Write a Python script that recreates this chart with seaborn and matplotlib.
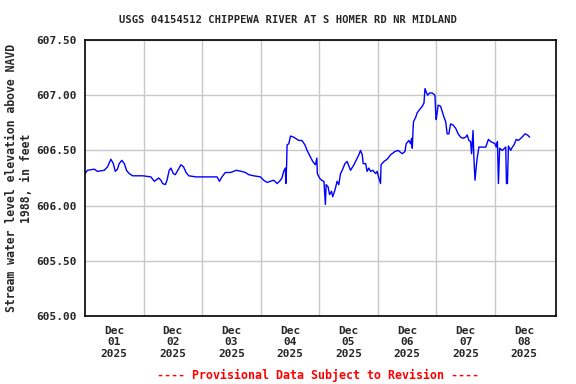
import pandas as pd
import seaborn as sns
import matplotlib.pyplot as plt

# Gage readings, hours after 2025-12-01 00:00 and elevation in feet
hours = [0.0, 1.0, 3.8, 5.1, 7.9, 9.2, 10.6, 11.6, 12.4, 13.3, 14.0, 15.1, 16.1, 17.0, 18.1,
         19.5, 23.6, 27.0, 28.4, 30.2, 31.1, 31.8, 32.9, 33.6, 34.5, 35.2, 36.2, 37.0, 38.0,
         39.3, 40.4, 41.4, 42.5, 45.5, 47.9, 54.1, 55.1, 56.1, 57.5, 59.6, 60.9, 61.9, 64.1,
         65.7, 67.1, 69.1, 71.9, 73.2, 74.6, 76.0, 77.3, 78.7, 79.7, 80.7, 81.4, 82.1, 82.3,
         82.6, 82.8, 83.5, 84.2, 85.5, 87.6, 88.9, 90.1, 91.0, 92.4, 93.3, 94.4, 95.0, 95.2,
         96.1, 96.9, 97.9, 98.5, 98.8, 99.6, 100.2, 101.0, 101.5, 102.4, 103.3, 104.0, 104.7,
         105.4, 106.5, 107.4, 108.8, 110.2, 111.5, 112.2, 112.9, 113.6, 114.0, 115.0, 115.6,
         116.3, 117.0, 117.9, 119.1, 119.7, 120.4, 121.1, 121.3, 122.5, 123.8, 125.2, 127.0,
         128.3, 130.0, 131.1, 131.6, 132.7, 133.4, 133.8, 134.1, 134.4, 134.6, 135.5, 136.1,
         137.1, 138.2, 138.9, 139.3, 139.8, 140.4, 141.2, 142.3, 143.4, 143.7, 143.9, 144.7,
         145.7, 146.4, 147.1, 147.8, 148.4, 149.1, 149.8, 150.8, 151.9, 152.9, 153.9, 154.9,
         156.0, 156.6, 157.3, 158.0, 158.4, 159.0, 159.3, 159.8, 160.3, 160.7, 161.4, 164.2,
         165.3, 166.2, 167.2, 168.0, 168.5, 169.0, 169.4, 169.9, 171.0, 172.4, 172.7, 173.1,
         173.5, 174.4, 175.1, 175.8, 176.7, 177.6, 178.6, 179.5, 180.3, 181.3, 182.2]
elevation = [606.29, 606.32, 606.33, 606.31, 606.32, 606.35, 606.42, 606.38, 606.31, 606.33,
             606.38, 606.41, 606.38, 606.32, 606.29, 606.27, 606.27, 606.26, 606.22, 606.25,
             606.23, 606.20, 606.19, 606.23, 606.32, 606.34, 606.29, 606.28, 606.32, 606.37,
             606.35, 606.30, 606.27, 606.26, 606.26, 606.26, 606.22, 606.26, 606.30, 606.30,
             606.31, 606.32, 606.31, 606.30, 606.28, 606.27, 606.26, 606.23, 606.21, 606.22,
             606.23, 606.20, 606.22, 606.25, 606.31, 606.34, 606.20, 606.36, 606.55, 606.56,
             606.63, 606.62, 606.59, 606.59, 606.55, 606.50, 606.44, 606.40, 606.37, 606.43,
             606.29, 606.25, 606.23, 606.22, 606.01, 606.19, 606.17, 606.10, 606.13, 606.08,
             606.14, 606.22, 606.19, 606.29, 606.32, 606.38, 606.40, 606.32, 606.37, 606.43,
             606.46, 606.50, 606.46, 606.38, 606.38, 606.31, 606.34, 606.31, 606.32, 606.29,
             606.31, 606.25, 606.20, 606.37, 606.40, 606.42, 606.46, 606.49, 606.50, 606.47,
             606.49, 606.56, 606.59, 606.56, 606.61, 606.52, 606.68, 606.76, 606.80, 606.84,
             606.87, 606.90, 606.93, 607.06, 607.03, 607.00, 607.02, 607.02, 607.00, 606.84,
             606.78, 606.91, 606.90, 606.85, 606.80, 606.76, 606.65, 606.65, 606.74, 606.73,
             606.70, 606.65, 606.62, 606.61, 606.62, 606.64, 606.59, 606.58, 606.47, 606.68,
             606.46, 606.23, 606.35, 606.43, 606.53, 606.53, 606.60, 606.58, 606.57, 606.56,
             606.53, 606.58, 606.20, 606.52, 606.50, 606.53, 606.20, 606.20, 606.54, 606.50,
             606.53, 606.55, 606.60, 606.59, 606.61, 606.63, 606.65, 606.64, 606.62]

days = ['2025-12-01', '2025-12-02', '2025-12-03', '2025-12-04',
        '2025-12-05', '2025-12-06', '2025-12-07', '2025-12-08']
y_ticks = [605.0, 605.5, 606.0, 606.5, 607.0, 607.5]

title = 'USGS 04154512 CHIPPEWA RIVER AT S HOMER RD NR MIDLAND'
ylab = 'Stream water level elevation above NAVD\n1988, in feet'
note = '---- Provisional Data Subject to Revision ----'

start = pd.Timestamp('2025-12-01')
df = pd.DataFrame({'time': start + pd.to_timedelta(hours, unit='h'),
                   'elev': elevation})

sns.set_style('white')
plt.rcParams['font.family'] = ['DejaVu Sans Mono']
plt.rcParams['font.weight'] = 'bold'

fig = plt.figure(figsize=(5.76, 3.84), dpi=100)
ax = fig.add_axes([0.1476, 0.1771, 0.8177, 0.7187])

sns.lineplot(data=df, x='time', y='elev', ax=ax, color='#0000ff', linewidth=1.0)

# labels sit at noon, grid lines at midnight
noon = [pd.Timestamp(d) + pd.Timedelta(hours=12) for d in days]
midnight = [pd.Timestamp(d) for d in days[1:]]
ax.set_xticks(noon)
ax.set_xticklabels([pd.Timestamp(d).strftime('%b\n%d\n%Y') for d in days],
                   fontsize=8, fontweight='bold', linespacing=1.2)
ax.set_xticks(midnight, minor=True)
ax.set_xlim(start, start + pd.Timedelta(days=8, hours=1))
ax.set_ylim(605.0, 607.5)
ax.set_yticks(y_ticks)
ax.set_yticklabels([f'{v:.2f}' for v in y_ticks], fontsize=8, fontweight='bold')

ax.grid(False)
ax.grid(True, which='minor', axis='x', color='#c8c8c8', linewidth=1.0)
ax.grid(True, which='major', axis='y', color='#c8c8c8', linewidth=1.0)
ax.tick_params(axis='x', which='major', length=0, pad=7)
ax.tick_params(axis='x', which='minor', length=0)
ax.tick_params(axis='y', direction='in', length=4, pad=6)
for s in ax.spines.values():
    s.set_color('black')
    s.set_linewidth(1.2)

ax.set_xlabel('')
ax.set_ylabel('')
fig.text(19 / 576, 0.5365, ylab, rotation=90, ha='center', va='center',
         fontsize=8.3, fontweight='bold', linespacing=1.2, multialignment='center')
fig.text(0.5, 0.948, title, ha='center', va='center', fontsize=7.6, fontweight='bold')
fig.text(0.552, 0.023, note, ha='center', va='center', fontsize=8.4,
         fontweight='bold', color='red')

fig.savefig('out.png', dpi=100)
